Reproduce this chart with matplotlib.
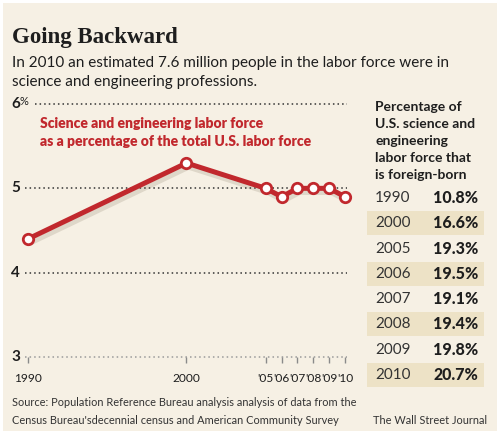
import matplotlib.pyplot as plt
import matplotlib.patheffects as pe
from matplotlib.patches import Rectangle
from matplotlib.transforms import blended_transform_factory

# データ
years = [1990, 2000, 2005, 2006, 2007, 2008, 2009, 2010]
share = [4.4, 5.3, 5.0, 4.9, 5.0, 5.0, 5.0, 4.9]
xtick_labels = ['1990', '2000', "'05", "'06", "'07", "'08", "'09", "'10"]
yticks = [3, 4, 5, 6]
ytick_labels = ['3', '4', '5', '6%']
table_years = ['1990', '2000', '2005', '2006', '2007', '2008', '2009', '2010']
foreign_born = ['10.8%', '16.6%', '19.3%', '19.5%', '19.1%', '19.4%', '19.8%', '20.7%']

W, H = 500, 434
RED = '#c1282d'
BG = '#f6f0e4'
SHADE = '#ede2c6'
INK = '#1e1e1e'
SANS = ['Lato', 'DejaVu Sans']


def fx(x):
    return x / W


def fy(y):
    return 1 - y / H


fig = plt.figure(figsize=(5, 4.34), dpi=100, facecolor='white')
fig.patches.append(Rectangle((fx(3), fy(431)), fx(494), 428 / H, transform=fig.transFigure,
                             facecolor=BG, edgecolor='none', zorder=-5))

# タイトル
fig.text(fx(12), fy(37), 'Going Backward', family='Liberation Serif', weight='bold',
         fontsize=16.5, color=INK, va='center')
fig.text(fx(12), fy(63), 'In 2010 an estimated 7.6 million people in the labor force were in',
         family=SANS, fontsize=11, color=INK, va='center')
fig.text(fx(12), fy(82), 'science and engineering professions.',
         family=SANS, fontsize=11, color=INK, va='center')

# グラフ
px_yr = (345 - 28) / 20
px_unit = (357 - 104) / 3
ax_l, ax_r, ax_t, ax_b = 20, 352, 98, 366
ax = fig.add_axes([fx(ax_l), fy(ax_b), (ax_r - ax_l) / W, (ax_b - ax_t) / H])
ax.set_facecolor('none')
ax.set_xlim(1990 - (28 - ax_l) / px_yr, 2010 + (ax_r - 345) / px_yr)
ax.set_ylim(3 - (ax_b - 357) / px_unit, 6 + (104 - ax_t) / px_unit)
for s in ax.spines.values():
    s.set_visible(False)
ax.set_yticks([])

for v in yticks:
    start = 1990.45 if v == 6 else 1989.8
    col = '#9a9a9a' if v == 3 else '#333333'
    ax.plot([start, 2010.15], [v, v], linestyle=(0, (1, 2)), color=col, lw=1.1, zorder=1)

trans = blended_transform_factory(fig.transFigure, ax.transData)
for v, lab in zip(yticks, ytick_labels):
    if lab.endswith('%'):
        ax.text(fx(11), v, lab[:-1], transform=trans, family=SANS, weight='bold',
                fontsize=11, color=INK, va='center', ha='left')
        ax.text(fx(19), v + 0.03, '%', transform=trans, family=SANS,
                fontsize=8, color=INK, va='center', ha='left')
    else:
        ax.text(fx(11), v, lab, transform=trans, family=SANS, weight='bold',
                fontsize=11, color=INK, va='center', ha='left')

ax.vlines(years, 3, 3 - 6 / px_unit, color='#8a8a8a', lw=1, zorder=1)
ax.set_xticks(years)
ax.set_xticklabels(xtick_labels, family=SANS, fontsize=8.6, color=INK)
ax.tick_params(axis='x', length=0, pad=5)

ax.plot(years, share, color=RED, lw=3.6, solid_capstyle='round', zorder=3,
        path_effects=[pe.SimpleLineShadow(offset=(1.5, -3), shadow_color='#5a4a30', alpha=0.15),
                      pe.Normal()])
ax.plot(years, share, linestyle='none', marker='o', ms=7.5, mfc='white', mec=RED, mew=2, zorder=4)

fig.text(fx(40), fy(124), 'Science and engineering labor force', family=SANS, weight='heavy',
         fontsize=10, color=RED, va='center')
fig.text(fx(40), fy(141), 'as a percentage of the total U.S. labor force', family=SANS,
         weight='heavy', fontsize=10, color=RED, va='center')

# 表
header = ['Percentage of', 'U.S. science and', 'engineering', 'labor force that', 'is foreign-born']
for i, line in enumerate(header):
    fig.text(fx(375), fy(107 + i * 17), line, family=SANS, weight='bold', fontsize=10,
             color=INK, va='center')

row_h = (375 - 198) / 7
for i, (yr, pct) in enumerate(zip(table_years, foreign_born)):
    yc = 198 + i * row_h
    if i % 2 == 1:
        fig.patches.append(Rectangle((fx(367), fy(yc + 12)), 117 / W, 24 / H,
                                     transform=fig.transFigure, facecolor=SHADE,
                                     edgecolor='none', zorder=1))
    fig.text(fx(375), fy(yc), yr, family=SANS, fontsize=11, color='#333333', va='center')
    fig.text(fx(478), fy(yc), pct, family=SANS, weight='black', fontsize=11.5, color=INK,
             va='center', ha='right')

# 出典
fig.text(fx(12), fy(403), 'Source: Population Reference Bureau analysis analysis of data from the',
         family=SANS, fontsize=7.9, color='#333333', va='center')
fig.text(fx(12), fy(421), "Census Bureau'sdecennial census and American Community Survey",
         family=SANS, fontsize=7.9, color='#333333', va='center')
fig.text(fx(373), fy(421), 'The Wall Street Journal', family=SANS, fontsize=7.9,
         color='#333333', va='center')

plt.savefig('out.png', dpi=100, facecolor='white')
